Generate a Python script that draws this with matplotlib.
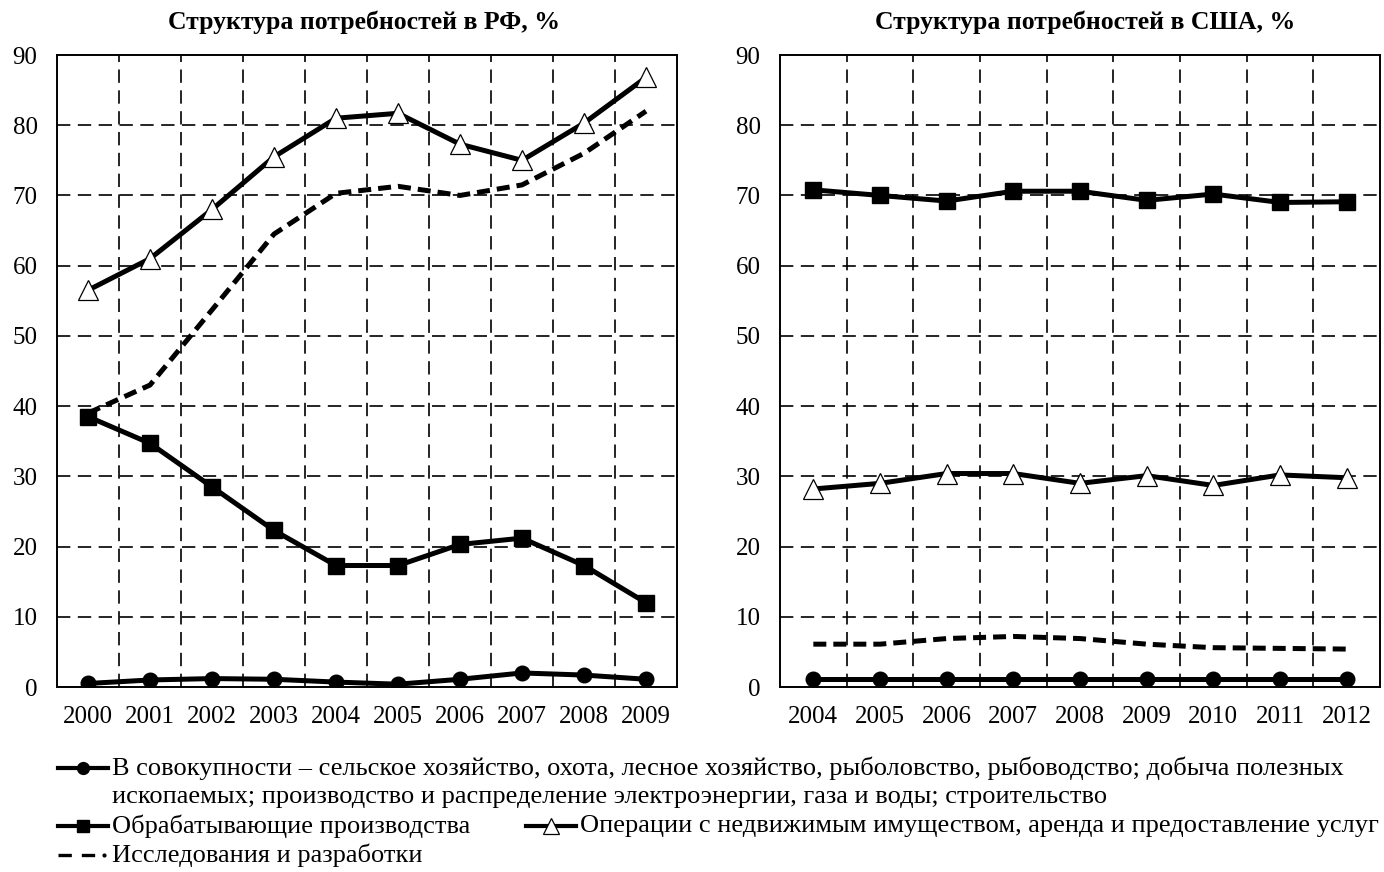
import matplotlib
matplotlib.use("Agg")
import matplotlib.pyplot as plt
from matplotlib.lines import Line2D

plt.rcParams["font.family"] = ["Liberation Serif", "DejaVu Serif"]

# Russia, 2000-2009
years_ru = ["2000", "2001", "2002", "2003", "2004", "2005", "2006", "2007", "2008", "2009"]
ru_total = [0.5, 1.0, 1.2, 1.1, 0.7, 0.4, 1.1, 2.0, 1.7, 1.1]
ru_manuf = [38.5, 34.7, 28.5, 22.3, 17.3, 17.3, 20.3, 21.2, 17.3, 12.0]
ru_realty = [56.5, 61.0, 68.0, 75.5, 81.0, 81.7, 77.3, 75.0, 80.3, 86.8]
ru_rnd = [39.0, 43.0, 53.7, 64.5, 70.3, 71.3, 70.0, 71.5, 76.0, 82.0]

# USA, 2004-2012
years_us = ["2004", "2005", "2006", "2007", "2008", "2009", "2010", "2011", "2012"]
us_total = [1.1, 1.1, 1.1, 1.1, 1.1, 1.1, 1.1, 1.1, 1.1]
us_manuf = [70.8, 70.0, 69.2, 70.6, 70.6, 69.3, 70.2, 69.0, 69.1]
us_realty = [28.2, 29.0, 30.4, 30.4, 29.0, 30.1, 28.7, 30.2, 29.8]
us_rnd = [6.1, 6.1, 6.9, 7.2, 6.9, 6.1, 5.6, 5.5, 5.4]

titles = ["Структура потребностей в РФ, %", "Структура потребностей в США, %"]
legend_labels = [
    "В совокупности – сельское хозяйство, охота, лесное хозяйство, рыболовство, рыбоводство; добыча полезных\n"
    "ископаемых; производство и распределение электроэнергии, газа и воды; строительство",
    "Обрабатывающие производства",
    "Операции с недвижимым имуществом, аренда и предоставление услуг",
    "Исследования и разработки",
]

W, H = 1384, 872
fig = plt.figure(figsize=(W / 100, H / 100), dpi=100)

ax1 = fig.add_axes([57 / W, 1 - 687 / H, 620 / W, 632 / H])
ax2 = fig.add_axes([780 / W, 1 - 687 / H, 600 / W, 632 / H])

lw = 3.6
tri = dict(marker="^", ms=14, mfc="white", mec="black", mew=0.9)
sq = dict(marker="s", ms=12, mfc="black", mec="black")
circ = dict(marker="o", ms=10.5, mfc="black", mec="black")


def draw(ax, years, total, manuf, realty, rnd, title_x, title):
    x = list(range(len(years)))
    ax.plot(x, rnd, color="black", lw=lw, dashes=(2.6, 1.4), zorder=3)
    ax.plot(x, realty, color="black", lw=lw, zorder=4, **tri)
    ax.plot(x, manuf, color="black", lw=lw, zorder=4, **sq)
    ax.plot(x, total, color="black", lw=lw, zorder=4, **circ)

    ax.set_xlim(-0.5, len(years) - 0.5)
    ax.set_ylim(0, 90)
    ax.set_yticks(range(0, 91, 10))
    ax.set_xticks(x)
    ax.set_xticklabels(years)
    ax.tick_params(length=0, labelsize=18)
    ax.tick_params(axis="x", pad=14)
    ax.tick_params(axis="y", pad=14)
    for v in range(10, 90, 10):
        ax.axhline(v, color="black", lw=1.2, dashes=(8, 4.5), zorder=1)
    for i in range(len(years) - 1):
        ax.axvline(i + 0.5, color="black", lw=1.2, dashes=(8, 4.5), zorder=1)
    for s in ax.spines.values():
        s.set_linewidth(1.4)
    fig.text(title_x / W, 1 - 22 / H, title, ha="center", va="center",
             fontsize=18.5, fontweight="bold")


draw(ax1, years_ru, ru_total, ru_manuf, ru_realty, ru_rnd, 364, titles[0])
draw(ax2, years_us, us_total, us_manuf, us_realty, us_rnd, 1085, titles[1])


# legend built by hand to follow the original layout
def handle(x0, y, style, ms):
    yy = 1 - y / H
    fig.add_artist(Line2D([x0 / W, (x0 + 50) / W], [yy, yy], color="black",
                          lw=3.0, transform=fig.transFigure))
    st = dict(style)
    st["ms"] = ms
    fig.add_artist(Line2D([(x0 + 25) / W], [yy], color="black",
                          transform=fig.transFigure, **st))


fs = 19
handle(58, 768, circ, 8.5)
fig.text(112 / W, 1 - 768 / H, legend_labels[0].split("\n")[0], ha="left", va="center", fontsize=fs)
fig.text(112 / W, 1 - 797 / H, legend_labels[0].split("\n")[1], ha="left", va="center", fontsize=fs)
handle(58, 826, sq, 9)
fig.text(112 / W, 1 - 826 / H, legend_labels[1], ha="left", va="center", fontsize=fs)
handle(526, 826, tri, 12)
fig.text(580 / W, 1 - 826 / H, legend_labels[2], ha="left", va="center", fontsize=fs)
yy = 1 - 855 / H
fig.add_artist(Line2D([58 / W, 98 / W], [yy, yy], color="black", lw=2.4,
                      dashes=(4, 3), transform=fig.transFigure))
fig.add_artist(Line2D([104 / W], [yy], marker="o", ms=2, color="black",
                      transform=fig.transFigure))
fig.text(112 / W, 1 - 855 / H, legend_labels[3], ha="left", va="center", fontsize=fs)

fig.savefig("out.png", dpi=100)
